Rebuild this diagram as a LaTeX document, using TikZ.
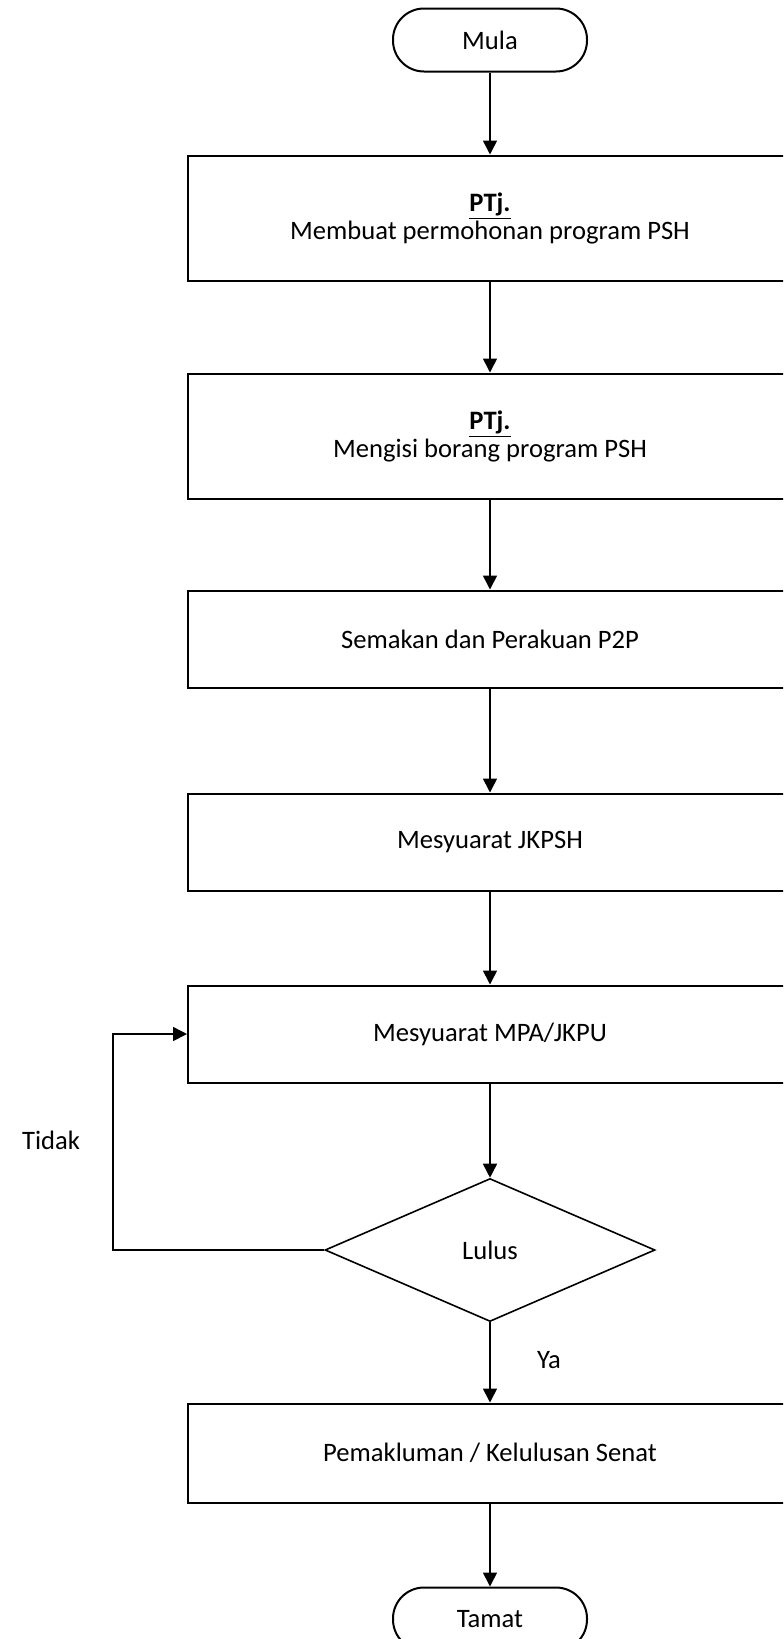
\documentclass[tikz,border=0pt]{standalone}
\usepackage{fontspec}
\setmainfont{Carlito}
\usetikzlibrary{shapes.geometric,arrows.meta}

\tikzset{
    prosesbox/.style={draw, line width=1pt, minimum width=302pt, minimum height=48.5pt, inner sep=0pt, align=center},
    terminalbox/.style={draw, line width=1pt, rounded corners=15.5pt, minimum width=97pt, minimum height=31.5pt, inner sep=0pt},
    keputusan/.style={draw, diamond, line width=0.8pt, aspect=2.3, minimum width=165pt, minimum height=71.5pt, inner sep=0pt},
    anak/.style={line width=0.8pt, -{Triangle[length=7pt,width=7pt]}},
}

\begin{document}
\begin{tikzpicture}[x=0.5pt, y=-0.5pt, font=\fontsize{13.3}{14}\selectfont]
            \useasboundingbox (0, 0) rectangle (783, 1639);
            \clip (0, 0) rectangle (783, 1639);
            % terminals and steps
            \node[terminalbox] (mula) at (490, 40) {Mula};
            \node[prosesbox, minimum height=62.5pt] (mohon) at (490, 218) {\underline{\textbf{PTj.}}\\Membuat permohonan program PSH};
            \node[prosesbox, minimum height=62.5pt] (borang) at (490, 436) {\underline{\textbf{PTj.}}\\Mengisi borang program PSH};
            \node[prosesbox] (semak) at (490, 639) {Semakan dan Perakuan P2P};
            \node[prosesbox] (jkpsh) at (490, 842) {Mesyuarat JKPSH};
            \node[prosesbox] (mpa) at (490, 1034) {Mesyuarat MPA/JKPU};
            \node[keputusan] (lulus) at (490, 1250) {Lulus};
            \node[prosesbox, minimum height=49.5pt] (senat) at (490, 1453) {Pemakluman / Kelulusan Senat};
            \node[terminalbox] (tamat) at (490, 1619) {Tamat};
            % labels
            \node (tidak) at (51, 1140) {Tidak};
            \node (ya) at (549, 1360) {Ya};
            \coordinate (balik) at (113, 1250);
            % connectors
            \draw[anak] (mula) -- (mohon);
            \draw[anak] (mohon) -- (borang);
            \draw[anak] (borang) -- (semak);
            \draw[anak] (semak) -- (jkpsh);
            \draw[anak] (jkpsh) -- (mpa);
            \draw[anak] (mpa) -- (lulus);
            \draw[anak] (lulus.west) -- (balik) |- (mpa.west);
            \draw[anak] (lulus) -- (senat);
            \draw[anak] (senat) -- (tamat);
\end{tikzpicture}
\end{document}
